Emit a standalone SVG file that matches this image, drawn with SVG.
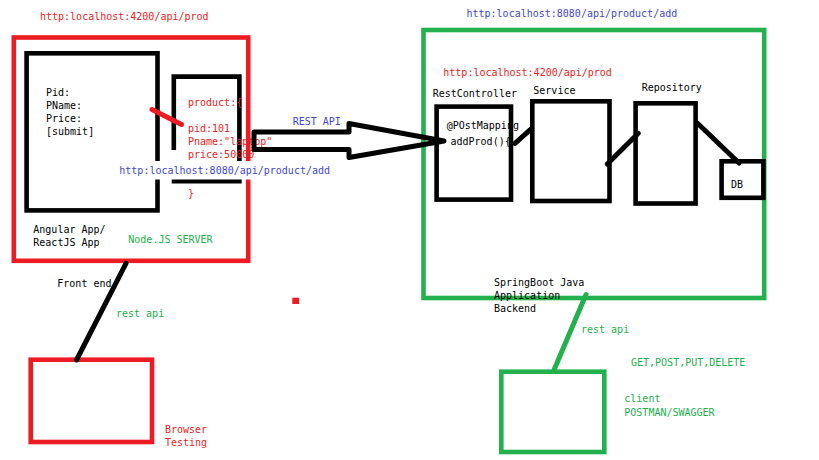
<svg xmlns="http://www.w3.org/2000/svg" width="819" height="460" viewBox="0 0 819 460">
<style>
text{font-family:"DejaVu Sans Mono","Liberation Mono",monospace;font-size:10px}
.k{fill:#000}.r{fill:#ed1c24}.g{fill:#22b14c}.b{fill:#3f48cc}
.bx{fill:none;stroke:#000;stroke-width:4.6}
.rb{fill:none;stroke:#ed1c24;stroke-width:4.6}
.gb{fill:none;stroke:#22b14c;stroke-width:4.6}
.ln{fill:none;stroke-width:5;stroke-linecap:round;stroke-linejoin:round}
</style>
<rect width="819" height="460" fill="#fff"/>
<text class="r" x="40" y="19.5">http:localhost:4200/api/prod</text>
<text class="b" x="466.5" y="17">http:localhost:8080/api/product/add</text>

<g id="product-json">
<path class="bx" d="M173.8,150V76.6H239.4V161M171.7,181.3H241.7"/>
<text class="r" x="188" y="106">product:{</text>
<text class="r" x="188" y="132">pid:101</text>
<text class="r" x="188" y="145">Pname:"laptop"</text>
<text class="r" x="188" y="158">price:50000</text>
<text class="r" x="188" y="197">}</text>
</g>

<g id="frontend">
<rect class="rb" x="13.8" y="37.5" width="234.4" height="223.3"/>
<text class="k" x="33.3" y="233">Angular App/</text>
<text class="k" x="33.3" y="246">ReactJS App</text>
<text class="g" x="128.3" y="243">Node.JS SERVER</text>
</g>

<g id="form">
<rect class="bx" x="26.6" y="53.3" width="130.9" height="157.1"/>
<text class="k" x="46" y="95.5">Pid:</text>
<text class="k" x="46" y="108.5">PName:</text>
<text class="k" x="46" y="121.5">Price:</text>
<text class="k" x="46" y="134.5">[submit]</text>
</g>

<g id="backend">
<rect class="gb" x="423.5" y="30" width="340.7" height="268"/>
<text class="r" x="443.3" y="75.5">http:localhost:4200/api/prod</text>
<text class="k" x="494" y="286">SpringBoot Java</text>
<text class="k" x="494" y="299">Application</text>
<text class="k" x="494" y="312">Backend</text>
</g>

<g id="restcontroller">
<text class="k" x="432.7" y="97">RestController</text>
<text class="k" x="446.7" y="129">@POstMapping</text>
<text class="k" x="450.5" y="144.5">addProd(){</text>
<rect class="bx" x="436.6" y="106.6" width="74.4" height="93"/>
</g>

<g id="service">
<text class="k" x="533.3" y="94">Service</text>
<rect class="bx" x="532.3" y="101.3" width="77.2" height="99.7"/>
</g>

<g id="repository">
<text class="k" x="641.7" y="91">Repository</text>
<rect class="bx" x="635.6" y="103.3" width="60" height="100.2"/>
</g>

<g id="db">
<rect class="bx" x="721.6" y="161.3" width="41.8" height="36.5"/>
<text class="k" x="731" y="188">DB</text>
</g>

<g id="browser">
<rect class="rb" x="30.7" y="359.7" width="121.3" height="82.3"/>
<text class="r" x="165" y="433">Browser</text>
<text class="r" x="165" y="446">Testing</text>
</g>

<g id="client">
<rect class="gb" x="501.3" y="371.7" width="103" height="80.3"/>
<text class="g" x="624.3" y="401.5">client</text>
<text class="g" x="624.3" y="415.5">POSTMAN/SWAGGER</text>
<text class="g" x="631" y="366">GET,POST,PUT,DELETE</text>
</g>

<g id="connectors">
<line class="ln" x1="152" y1="109.5" x2="181.5" y2="124.5" stroke="#ed1c24" stroke-width="4.5"/>
<polygon class="ln" stroke="#000" points="254,132 349,132 349,123.5 444,141 349,157.5 349,149.5 254,149.5"/>
<text class="b" x="292.7" y="125">REST API</text>
<line class="ln" stroke="#000" x1="515" y1="143.3" x2="531.7" y2="128.3"/>
<line class="ln" stroke="#000" x1="607.3" y1="164" x2="638.3" y2="133.3"/>
<line class="ln" stroke="#000" x1="697.5" y1="123.3" x2="739" y2="163"/>
<line class="ln" stroke="#000" x1="126" y1="263.3" x2="76.5" y2="360"/>
<text class="k" x="57.3" y="286.5">Front end</text>
<text class="g" x="116" y="316.5">rest api</text>
<line class="ln" stroke="#22b14c" stroke-width="4.5" x1="586" y1="294.5" x2="554" y2="370"/>
<text class="g" x="581" y="333">rest api</text>
</g>

<g id="url-label">
<rect x="117" y="161" width="214" height="18.5" fill="#fff"/>
<text class="b" x="119.3" y="174">http:localhost:8080/api/product/add</text>
</g>

<rect x="292.3" y="297.7" width="6.7" height="6.3" fill="#ed1c24"/>
</svg>
